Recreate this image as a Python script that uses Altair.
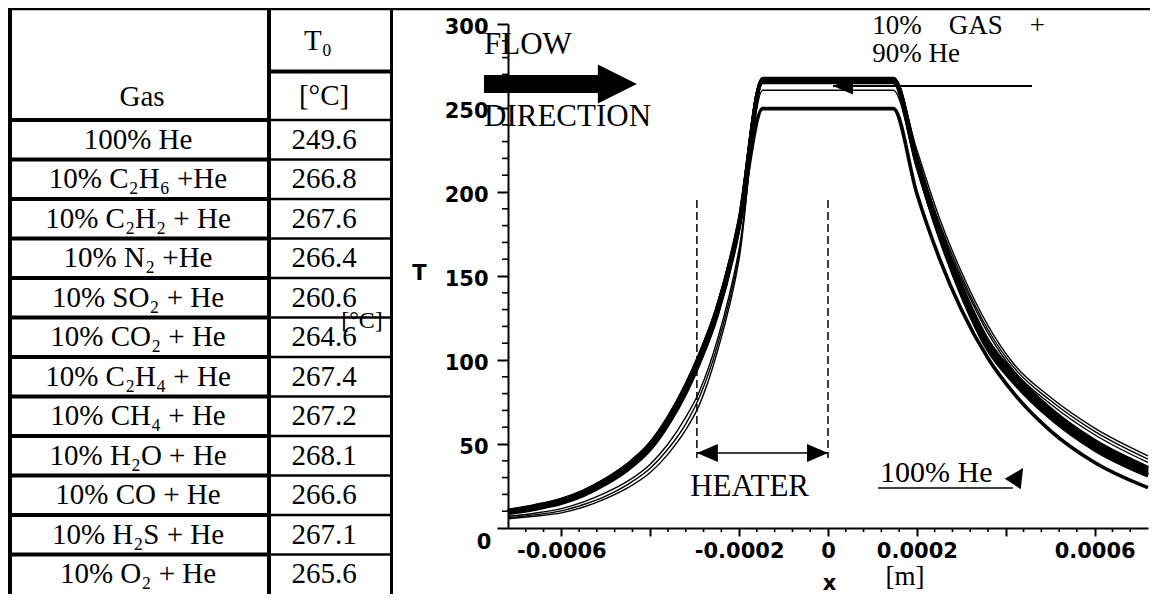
import altair as alt
import pandas as pd

# ---------------- table content ----------------
gas_labels = ["100% He", "10% C₂H₆ +He", "10% C₂H₂ + He", "10% N₂ +He",
              "10% SO₂ + He", "10% CO₂ + He", "10% C₂H₄ + He", "10% CH₄ + He",
              "10% H₂O + He", "10% CO + He", "10% H₂S + He", "10% O₂ + He"]
t0_labels = ["249.6", "266.8", "267.6", "266.4", "260.6", "264.6",
             "267.4", "267.2", "268.1", "266.6", "267.1", "265.6"]

# ---------------- curve data ----------------
x_left = [-0.00072, -0.00066, -0.0006, -0.00055, -0.0005, -0.00045, -0.0004, -0.00036,
          -0.00032, -0.00029, -0.00025, -0.0002, -0.000147]
x_right = [0.000147, 0.0002, 0.00025, 0.0003, 0.00036, 0.00042, 0.0005, 0.0006, 0.00072]

# upstream (left) side, then downstream (right) side
He_L   = [10.5, 13.3, 17, 22, 29, 38, 50.5, 65.7, 85, 102.5, 130.5, 180.5, 249.6]
He_R   = [249.6, 199, 161, 130, 101, 79.5, 58, 39, 24]
C2H6_L = [9.8, 12.6, 16.3, 21.2, 28.2, 37, 49.3, 64.3, 83.5, 101, 129, 181, 266.8]
C2H6_R = [266.8, 218, 176, 141, 108, 88, 67.5, 48.5, 33]
C2H2_L = [10.2, 13, 16.8, 21.8, 28.8, 37.8, 50.2, 65.3, 84.6, 102, 130.5, 183, 267.6]
C2H2_R = [267.6, 219, 177, 142, 109, 89, 68.5, 49.5, 34]
N2_L   = [9.3, 12, 15.6, 20.5, 27.3, 36, 48.2, 63, 82, 99.5, 128, 180, 266.4]
N2_R   = [266.4, 217, 175, 140, 107, 87, 66.5, 47.5, 32]
SO2_L  = [7, 8.8, 11.5, 15.5, 21, 28, 38, 50, 66, 81, 111, 166, 260.6]
SO2_R  = [260.6, 215, 179, 148, 116, 93, 74, 55.5, 39]
CO2_L  = [6.2, 7.8, 10.2, 14, 19, 26, 35.5, 47, 62, 77.5, 107.5, 163, 264.6]
CO2_R  = [264.6, 220, 182, 150, 118, 95, 76, 57.5, 41]
C2H4_L = [10.1, 12.9, 16.6, 21.6, 28.6, 37.5, 49.8, 64.9, 84.2, 101.8, 130, 182, 267.4]
C2H4_R = [267.4, 220, 178.5, 144, 111, 91, 70.5, 51.5, 35.5]
CH4_L  = [10, 12.8, 16.5, 21.5, 28.4, 37.3, 49.6, 64.6, 83.8, 101.4, 129.8, 182, 267.2]
CH4_R  = [267.2, 220, 179, 144.5, 111.5, 91.5, 71, 52, 36]
H2O_L  = [5.5, 7, 9, 12.5, 17.5, 24, 33, 44, 58.5, 73, 104, 160, 268.1]
H2O_R  = [268.1, 225, 185, 152.5, 120.5, 97, 78, 59.5, 43]
CO_L   = [9, 11.7, 15.2, 20, 26.8, 35.4, 47.5, 62.3, 81.2, 98.7, 127, 180, 266.6]
CO_R   = [266.6, 216, 174, 139, 106, 86, 65.5, 46.5, 31]
H2S_L  = [8.6, 11.2, 14.7, 19.5, 26.2, 34.8, 46.8, 61.5, 80.3, 97.8, 126, 179, 267.1]
H2S_R  = [267.1, 219, 178, 143, 110, 90, 69.5, 50.5, 35]
O2_L   = [9.5, 12.2, 15.9, 20.8, 27.7, 36.5, 48.8, 63.6, 82.8, 100.3, 128.5, 180, 265.6]
O2_R   = [265.6, 216, 174.5, 139.5, 106.5, 86.5, 66, 47, 31.5]

series = {"He": (He_L, He_R), "C2H6": (C2H6_L, C2H6_R), "C2H2": (C2H2_L, C2H2_R),
          "N2": (N2_L, N2_R), "SO2": (SO2_L, SO2_R), "CO2": (CO2_L, CO2_R),
          "C2H4": (C2H4_L, C2H4_R), "CH4": (CH4_L, CH4_R), "H2O": (H2O_L, H2O_R),
          "CO": (CO_L, CO_R), "H2S": (H2S_L, H2S_R), "O2": (O2_L, O2_R)}
thin_series = ["SO2", "CO2", "H2O"]

# axis ticks
y_major = [0, 50, 100, 150, 200, 250, 300]
y_minor = [10, 20, 30, 40, 60, 70, 80, 90, 110, 120, 130, 140, 160, 170, 180, 190,
           210, 220, 230, 240, 260, 270, 280, 290]
x_major = [-0.0006, -0.0004, -0.0002, 0.0, 0.0002, 0.0004, 0.0006]
x_minor = [-0.00068, -0.00064, -0.00056, -0.00052, -0.00048, -0.00044, -0.00036, -0.00032,
           -0.00028, -0.00024, -0.00016, -0.00012, -0.00008, -0.00004, 0.00004, 0.00008,
           0.00012, 0.00016, 0.00024, 0.00028, 0.00032, 0.00036, 0.00044, 0.00048,
           0.00052, 0.00056, 0.00064, 0.00068]

# heater region
heater_edges = [-0.000295, 0.0]

# ---------------- build tables ----------------
rows = []
for k, (left, right) in series.items():
    for xv, tv in zip(x_left + x_right, left + right):
        rows.append({"gas": k, "x": xv, "T": tv})
df_lines = pd.DataFrame(rows)
df_table = pd.DataFrame({"gas": gas_labels, "t0": t0_labels})

SERIF = "Liberation Serif, Times New Roman, DejaVu Serif, serif"
SANS = "DejaVu Sans"

xs = alt.Scale(domain=[-0.00072, 0.00072], nice=False, zero=False)
ys = alt.Scale(domain=[0, 300], nice=False, zero=False)

x_label_expr = ("abs(abs(datum.value) - 0.0004) < 1e-9 ? '' : (abs(datum.value) < 1e-12 ? '0' : "
                "(datum.value < 0 ? '-' : '') + format(abs(datum.value), '.4f'))")
y_label_expr = "datum.value == 0 ? '' : datum.label"

x_axis = alt.Axis(values=x_major, labelExpr=x_label_expr, tickSize=8, tickWidth=2,
                  domainWidth=2, domainColor="black", tickColor="black", labelColor="black",
                  labelFont=SANS, labelFontWeight="bold", labelFontSize=21, labelPadding=4,
                  labelFlush=False, labelOverlap=False, grid=False,
                  title="x", titleFont=SANS, titleFontWeight="bold", titleFontSize=21,
                  titleX=321, titleY=55, titleBaseline="middle", titleAlign="center",
                  titleColor="black")
y_axis = alt.Axis(values=y_major, labelExpr=y_label_expr, tickSize=11, tickWidth=2,
                  domainWidth=2, domainColor="black", tickColor="black", labelColor="black",
                  labelFont=SANS, labelFontWeight="bold", labelFontSize=21, labelPadding=9,
                  labelOffset=3, labelFlush=False, labelOverlap=False, grid=False,
                  title="T", titleFont=SANS, titleFontWeight="bold", titleFontSize=21,
                  titleAngle=0, titleX=-89, titleY=249, titleBaseline="middle",
                  titleAlign="center", titleColor="black")

# every layer with an x field carries the same x axis definition (shared, merged)
def X(field="x"):
    return alt.X(f"{field}:Q", scale=xs, axis=x_axis)

# y scales are resolved independently (the table has its own row scale)
def Y(field="T"):
    return alt.Y(f"{field}:Q", scale=ys, axis=None)

base_lines = alt.Chart(df_lines)
thick = base_lines.mark_line(interpolate="monotone", color="black", strokeWidth=3.6).encode(
    x=X(), y=alt.Y("T:Q", scale=ys, axis=y_axis), detail="gas:N",
).transform_filter(~alt.FieldOneOfPredicate(field="gas", oneOf=thin_series))
thin = base_lines.mark_line(interpolate="monotone", color="black", strokeWidth=1.4).encode(
    x=X(), y=Y(), detail="gas:N",
).transform_filter(alt.FieldOneOfPredicate(field="gas", oneOf=thin_series))

# minor ticks
ymin = alt.Chart(pd.DataFrame({"v": y_minor})).mark_rule(color="black", strokeWidth=1.6).encode(
    y=Y("v"), x=alt.value(-6), x2=alt.value(0))
xmin = alt.Chart(pd.DataFrame({"v": x_minor})).mark_rule(color="black", strokeWidth=1.6).encode(
    x=X("v"), y=alt.value(504), y2=alt.value(508))

# heater
heater = alt.Chart(pd.DataFrame({"x": heater_edges, "t1": [195.2, 195.2], "t2": [41.7, 41.7]})).mark_rule(
    color="black", strokeWidth=1.5, strokeDash=[8, 4]).encode(
    x=X(), y=Y("t1"), y2="t2:Q")

def hseg(x1, x2, tv, w, cap="butt"):
    return alt.Chart(pd.DataFrame({"x": [x1], "x2": [x2], "T": [tv]})).mark_rule(
        color="black", strokeWidth=w, strokeCap=cap).encode(x=X(), x2="x2:Q", y=Y())

def head(xv, tv, shape, size, angle=0):
    return alt.Chart(pd.DataFrame({"x": [xv], "T": [tv]})).mark_point(
        shape=shape, size=size, filled=True, color="black", opacity=1, strokeWidth=0,
        angle=angle).encode(x=X(), y=Y())

LEFT_HEAD = "M0,0 L2,-0.86 L2,0.86 Z"
RIGHT_HEAD = "M0,0 L-2,-0.86 L-2,0.86 Z"

heater_arrow = hseg(heater_edges[0], heater_edges[1], 44.6, 1.6)
h1 = head(heater_edges[0], 44.6, LEFT_HEAD, 441)
h2 = head(heater_edges[1], 44.6, RIGHT_HEAD, 441)

flow_shaft = hseg(-0.000774, -0.000512, 264.3, 18)
flow_head = head(-0.00043, 264.3, "M0,0 L-2,-1 L-2,1 Z", 1521)

gas_line = hseg(0.0000113, 0.000459, 263.1, 2)
gas_head = head(0.0000113, 263.1, "M0,0 L2,-0.85 L2,0.85 Z", 400)

he_line = hseg(0.0001125, 0.000416, 23.8, 1.6)
he_head = head(0.000439, 35.7, "M0,0 L-2,-1 L-2,1 Z", 361, angle=303)

def label(text, xv, tv, size, font=SERIF, weight="normal", align="left"):
    return alt.Chart(pd.DataFrame({"x": [xv], "T": [tv], "t": [text]})).mark_text(
        font=font, fontSize=size, fontWeight=weight, align=align, baseline="middle",
        color="black").encode(x=X(), y=Y(), text="t:N")

NB = "\u00a0"
texts = [
    label("FLOW", -0.000774, 287.5, 31),
    label("DIRECTION", -0.000774, 244.6, 31),
    label("HEATER", -0.00031, 24.4, 31),
    label("100% He", 0.000117, 32.7, 30),
    label("10%" + NB * 4 + "GAS" + NB * 4 + "+", 0.0000995, 298.8, 27),
    label("90% He", 0.0000995, 282, 27),
    label("0", -0.000774, -8.9, 21, font=SANS, weight="bold", align="center"),
]

def pix_text(text, px, py, size, font=SERIF, weight="normal"):
    return alt.Chart(pd.DataFrame({"t": [text]})).mark_text(
        font=font, fontSize=size, fontWeight=weight, align="center", baseline="middle",
        color="black").encode(x=alt.value(px), y=alt.value(py), text="t:N")

unit_texts = [
    pix_text("[m]", 397, 553, 27),
    pix_text("[°C]", -146, 297, 24),
    pix_text("T₀", -190, 17, 29),
    pix_text("[°C]", -184, 72, 29),
    pix_text("Gas", -366, 73, 29),
]

def vrule(px, py1, py2, w):
    return alt.Chart(pd.DataFrame({"a": [0]})).mark_rule(color="black", strokeWidth=w).encode(
        x=alt.value(px), y=alt.value(py1), y2=alt.value(py2))

def hrule(py, px1, px2, w):
    return alt.Chart(pd.DataFrame({"a": [0]})).mark_rule(color="black", strokeWidth=w).encode(
        y=alt.value(py), x=alt.value(px1), x2=alt.value(px2))

borders = [
    hrule(-15.5, -500, 642, 3.5),
    vrule(-498, -17, 571, 4),
    vrule(-239, -17, 571, 4),
    vrule(-116.5, -17, 571, 3),
    hrule(47.5, -239, -116, 4),
]

# ---------------- table (own band scale for rows) ----------------
row_scale = alt.Scale(type="band", domain=gas_labels, range=[96, 570], paddingInner=0, paddingOuter=0)
tbl = alt.Chart(df_table)
gas_text = tbl.mark_text(font=SERIF, fontSize=29, align="center", baseline="middle",
                         color="black").encode(
    y=alt.Y("gas:N", scale=row_scale, axis=None), x=alt.value(-370), text="gas:N")
t0_text = tbl.mark_text(font=SERIF, fontSize=29, align="center", baseline="middle",
                        color="black").encode(
    y=alt.Y("gas:N", scale=row_scale, axis=None), x=alt.value(-184), text="t0:N")
row_thick = tbl.mark_rule(color="black", strokeWidth=4).encode(
    y=alt.Y("gas:N", scale=row_scale, axis=None, bandPosition=0),
    x=alt.value(-500), x2=alt.value(-239))
row_thin = tbl.mark_rule(color="black", strokeWidth=2.5).encode(
    y=alt.Y("gas:N", scale=row_scale, axis=None, bandPosition=0),
    x=alt.value(-239), x2=alt.value(-116))

chart = alt.layer(
    thick, thin, ymin, xmin, heater, heater_arrow, h1, h2, flow_shaft, flow_head,
    gas_line, gas_head, he_line, he_head, *texts, *unit_texts, *borders,
    row_thick, row_thin, gas_text, t0_text,
).resolve_scale(y="independent").properties(
    width=640, height=504,
    padding={"left": 500, "top": 16, "right": 2, "bottom": 66},
    autosize=alt.AutoSizeParams(type="none"),
    background="white",
).configure_view(stroke=None)

chart.save("out.html", embed_options={"renderer": "svg", "actions": False})
